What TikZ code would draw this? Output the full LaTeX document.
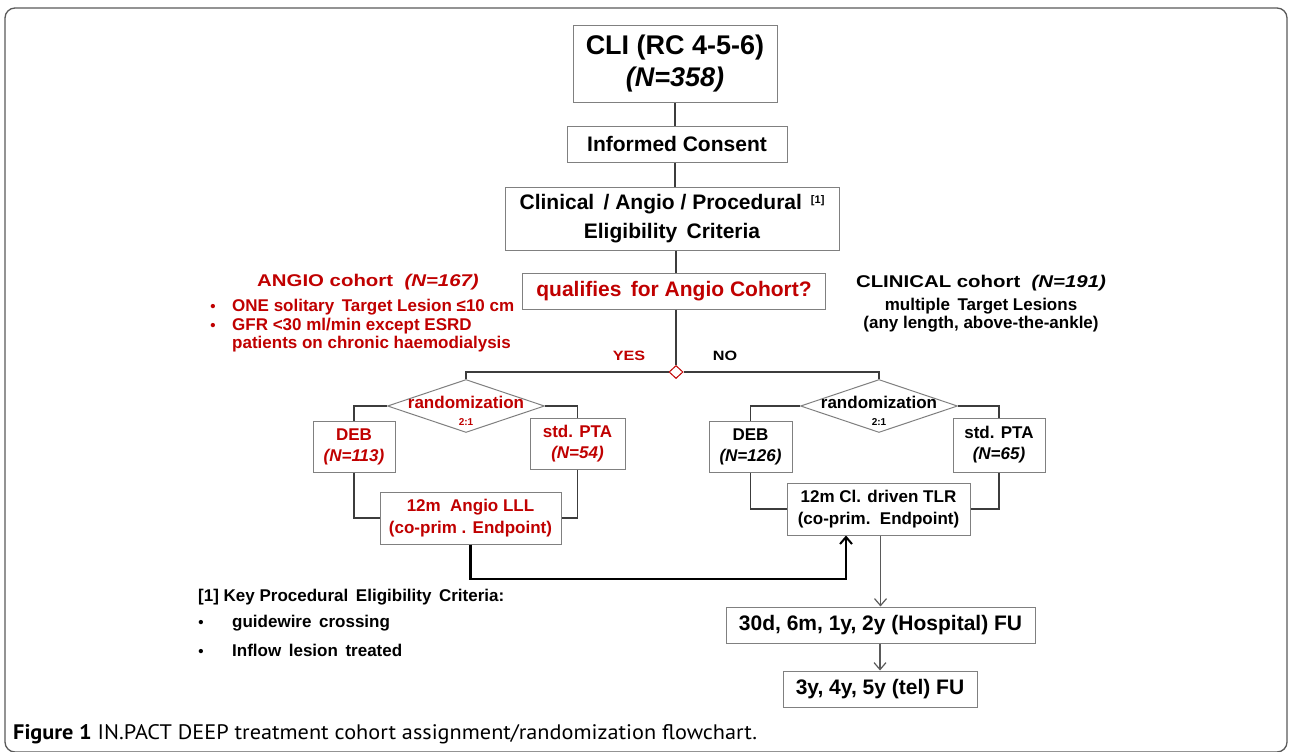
\documentclass[tikz,border=0pt]{standalone}
\usepackage{fontspec}
\setmainfont{Liberation Sans}
\newfontfamily\capfont{PT Sans}
\usepackage{graphicx}
\usetikzlibrary{arrows.meta,shapes.geometric}
\definecolor{cred}{RGB}{192,0,0}
\definecolor{bgray}{RGB}{128,128,128}
\definecolor{lgray}{RGB}{60,60,60}
\definecolor{fgray}{RGB}{90,90,90}
\newcommand{\fsz}[2]{\fontsize{#1}{#2}\selectfont}
\newcommand{\wide}[1]{\scalebox{1.2}[1]{#1}}
\begin{document}
\begin{tikzpicture}[x=1pt,y=-1pt,
  box/.style={draw=bgray, line width=1pt, fill=white, inner sep=0pt, align=center, font=\bfseries},
  rbox/.style={box, text=cred},
  decide/.style={diamond, draw=bgray, line width=1pt, fill=white, inner sep=0pt, minimum width=157pt, minimum height=53pt},
  conn/.style={draw=lgray, line width=1.4pt},
  bigarrow/.style={draw=black, line width=2.4pt, -{Straight Barb[length=7pt,width=12pt,line width=2pt]}},
  downarrow/.style={draw=fgray, line width=1.2pt, -{Straight Barb[length=7pt,width=12pt,line width=1.2pt]}},
  txt/.style={inner sep=0pt, font=\bfseries\fsz{17}{20}},
  bul/.style={inner sep=0pt, anchor=base, font=\bfseries\fsz{15}{18}},
  frame/.style={draw=fgray, line width=1.3pt, rounded corners=10pt}]
\useasboundingbox (0,0) rectangle (1290,752);
\fill[white] (0,0) rectangle (1290,752);
\draw[frame] (5,8) rectangle (1287,752);

% main spine
\node[box, minimum width=204pt, minimum height=77pt, font=\bfseries\fsz{27}{32}] (cli) at (675,64) {CLI (RC 4-5-6)\\\itshape (N=358)};
\node[box, minimum width=220pt, minimum height=36pt, font=\bfseries\fsz{21}{25}] (ic) at (677,144) {Informed Consent};
\node[box, minimum width=334pt, minimum height=63pt, font=\bfseries\fsz{21}{29}] (crit) at (672,218.5) {Clinical \,/ Angio / Procedural\hspace{9pt}\raisebox{6pt}{\fsz{11}{13}[1]}\\Eligibility \,Criteria};
\node[rbox, minimum width=303pt, minimum height=36pt, font=\bfseries\fsz{21}{25}] (qual) at (674,291) {qualifies \,for Angio Cohort?};
\node[diamond, draw=cred, line width=1pt, fill=white, inner sep=0pt, minimum width=14pt, minimum height=13pt] (junc) at (676,372) {};

\draw[conn] (cli.south) -- (cli.south |- ic.north);
\draw[conn] (ic.south -| cli.south) -- (cli.south |- crit.north);
\draw[conn] (crit.south -| junc) -- (junc |- qual.north);
\draw[conn] (qual.south -| junc) -- (junc.north);

% cohort descriptions
\node[txt, text=cred] (angiohead) at (368,282) {\wide{ANGIO cohort\ \ \textit{(N=167)}}};
\node[txt, text=cred, anchor=west] (at1) at (232,307) {ONE solitary \,Target Lesion ≤10 cm};
\node[bul, text=cred] (ab1) at ([xshift=-19pt]at1.base west) {•};
\node[txt, text=cred, anchor=west] (at2) at (232,326) {GFR <30 ml/min except ESRD};
\node[bul, text=cred] (ab2) at ([xshift=-19pt]at2.base west) {•};
\node[txt, text=cred, anchor=west] (at3) at (232,344) {patients on chronic haemodialysis};

\node[txt] (clinhead) at (981,283) {\wide{CLINICAL cohort\ \ \textit{(N=191)}}};
\node[txt] (ct1) at (981,306) {multiple \,Target Lesions};
\node[txt] (ct2) at (981,324) {(any length, above-the-ankle)};

\node[txt, text=cred, font=\bfseries\fsz{13.5}{16}] (yes) at (629,356) {\wide{YES}};
\node[txt, font=\bfseries\fsz{13.5}{16}] (no) at (725,356) {\wide{NO}};

% left branch
\node[decide] (rand1) at (466,406) {};
\node[txt, text=cred] (rand1t) at (466,402) {randomization};
\node[txt, text=cred, font=\bfseries\fsz{10}{12}] (rand1r) at (466,422) {2:1};
\node[rbox, minimum width=82pt, minimum height=51pt, font=\bfseries\fsz{17}{21}] (deb1) at (354,446.5) {DEB\\\itshape (N=113)};
\node[rbox, minimum width=95pt, minimum height=51pt, font=\bfseries\fsz{17}{21}] (pta1) at (577.5,443.5) {std. PTA\\\itshape (N=54)};
\node[rbox, minimum width=181pt, minimum height=52pt, font=\bfseries\fsz{17}{22}] (lll) at (470.5,518) {12m\ \ Angio LLL\\(co-prim . Endpoint)};

% right branch
\node[decide] (rand2) at (879,406) {};
\node[txt] (rand2t) at (879,402) {randomization};
\node[txt, font=\bfseries\fsz{10}{12}] (rand2r) at (879,422) {2:1};
\node[box, minimum width=83pt, minimum height=51pt, font=\bfseries\fsz{17}{21}] (deb2) at (750.5,446.5) {DEB\\\itshape (N=126)};
\node[box, minimum width=92pt, minimum height=54pt, font=\bfseries\fsz{17}{21}] (pta2) at (999,445) {std. PTA\\\itshape (N=65)};
\node[box, minimum width=183pt, minimum height=52pt, font=\bfseries\fsz{17}{22}] (tlr) at (878.5,509) {12m Cl. driven TLR\\(co-prim.\ \ Endpoint)};

\node[box, minimum width=309pt, minimum height=36pt, font=\bfseries\fsz{21}{25}] (hosp) at (880.5,625) {30d, 6m, 1y, 2y (Hospital) FU};
\node[box, minimum width=194pt, minimum height=36pt, font=\bfseries\fsz{21}{25}] (tel) at (880,689) {3y, 4y, 5y (tel) FU};

% connectors
\draw[conn] (junc.west) -| (rand1.north);
\draw[conn] (junc.east) -| (rand2.north);
\draw[conn] (rand1.west) -| (deb1.north);
\draw[conn] (rand1.east) -| (pta1.north);
\draw[conn] (deb1.south) |- (lll.west);
\draw[conn] (pta1.south) |- (lll.east);
\draw[conn] (rand2.west) -| (deb2.north);
\draw[conn] (rand2.east) -| (pta2.north);
\draw[conn] (deb2.south) |- (tlr.west);
\draw[conn] (pta2.south) |- (tlr.east);
\coordinate (turn) at (846,579);
\draw[bigarrow] (lll.south) |- (turn) -- (turn |- tlr.south);
\draw[downarrow] (hosp.north |- tlr.south) -- (hosp.north);
\draw[downarrow] (tel.north |- hosp.south) -- (tel.north);

% footnote
\node[txt, anchor=west] (fn) at (198,597) {[1] Key Procedural \,Eligibility \,Criteria:};
\node[txt, anchor=west] (fn1) at (232,623) {guidewire \,crossing};
\node[bul] (fb1) at ([xshift=-31pt]fn1.base west) {•};
\node[txt, anchor=west] (fn2) at (232,650) {Inflow \,lesion \,treated};
\node[bul] (fb2) at ([xshift=-31pt]fn2.base west) {•};

% caption
\node[inner sep=0pt, anchor=west, font=\capfont\fsz{21}{25}] (cap) at (13,734) {\scalebox{1.06}[1]{\textbf{Figure 1} IN.PACT DEEP treatment cohort assignment/randomization flowchart.}};
\end{tikzpicture}
\end{document}
